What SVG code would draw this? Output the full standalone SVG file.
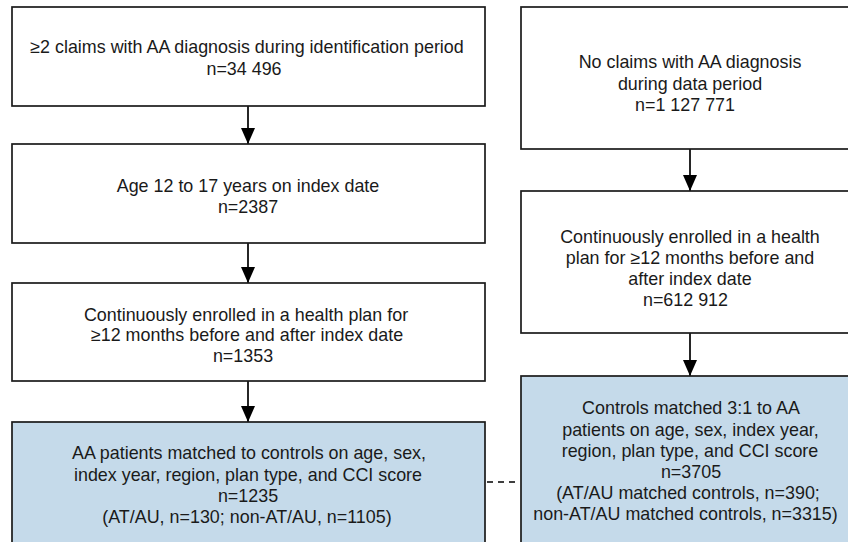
<svg xmlns="http://www.w3.org/2000/svg" width="848" height="542" viewBox="0 0 848 542">
<defs>
<style>
.box{fill:#ffffff;stroke:#1a1a1a;stroke-width:1.7}
.hl{fill:#c5daea}
.t{font-family:"Liberation Sans",Arial,sans-serif;font-size:17.9px;fill:#1a1a1a;text-anchor:middle}
.c{stroke:#000;stroke-width:1.7;fill:none}
.d{stroke:#000;stroke-width:1.5;fill:none;stroke-dasharray:6 5}
</style>
<marker id="ah" viewBox="0 0 16 14" refX="16" refY="7" markerWidth="16" markerHeight="14" markerUnits="userSpaceOnUse" orient="auto">
<path d="M0,0 L16,7 L0,14 Z" fill="#000"/>
</marker>
</defs>
<rect width="848" height="542" fill="#ffffff"/>
<g id="connectors">
<line class="c" x1="248" y1="106" x2="248" y2="144" marker-end="url(#ah)"/>
<line class="c" x1="248" y1="243" x2="248" y2="283" marker-end="url(#ah)"/>
<line class="c" x1="248" y1="381" x2="248" y2="422" marker-end="url(#ah)"/>
<line class="c" x1="690" y1="149" x2="690" y2="191" marker-end="url(#ah)"/>
<line class="c" x1="690" y1="333" x2="690" y2="376" marker-end="url(#ah)"/>
<line class="d" x1="487" y1="482" x2="520" y2="482"/>
</g>
<g id="n1">
<rect class="box" x="12" y="7" width="473" height="99"/>
<text class="t" x="247" y="53">≥2 claims with AA diagnosis during identification period</text>
<text class="t" x="244" y="75">n=34 496</text>
</g>
<g id="n2">
<rect class="box" x="12" y="144" width="473" height="99"/>
<text class="t" x="248" y="192">Age 12 to 17 years on index date</text>
<text class="t" x="248" y="213">n=2387</text>
</g>
<g id="n3">
<rect class="box" x="12" y="283" width="473" height="98"/>
<text class="t" x="246" y="320.5">Continuously enrolled in a health plan for</text>
<text class="t" x="247" y="341">≥12 months before and after index date</text>
<text class="t" x="243" y="362">n=1353</text>
</g>
<g id="n4">
<rect class="box hl" x="12" y="422" width="473" height="140"/>
<text class="t" x="249" y="459">AA patients matched to controls on age, sex,</text>
<text class="t" x="248" y="480.5">index year, region, plan type, and CCI score</text>
<text class="t" x="248" y="502">n=1235</text>
<text class="t" x="247" y="523">(AT/AU, n=130; non-AT/AU, n=1105)</text>
</g>
<g id="r1">
<rect class="box" x="521" y="7" width="340" height="142"/>
<text class="t" x="690" y="68.3">No claims with AA diagnosis</text>
<text class="t" x="690" y="89.5">during data period</text>
<text class="t" x="685" y="110.5">n=1 127 771</text>
</g>
<g id="r2">
<rect class="box" x="521" y="191" width="340" height="142"/>
<text class="t" x="690" y="242.7">Continuously enrolled in a health</text>
<text class="t" x="690" y="263.7">plan for ≥12 months before and</text>
<text class="t" x="690" y="285">after index date</text>
<text class="t" x="685.5" y="306">n=612 912</text>
</g>
<g id="r3">
<rect class="box hl" x="521" y="376" width="340" height="186"/>
<text class="t" x="691" y="414.3">Controls matched 3:1 to AA</text>
<text class="t" x="690.5" y="435.5">patients on age, sex, index year,</text>
<text class="t" x="690" y="456.7">region, plan type, and CCI score</text>
<text class="t" x="691" y="477.5">n=3705</text>
<text class="t" x="688" y="498.5">(AT/AU matched controls, n=390;</text>
<text class="t" x="685.5" y="520">non-AT/AU matched controls, n=3315)</text>
</g>
</svg>
